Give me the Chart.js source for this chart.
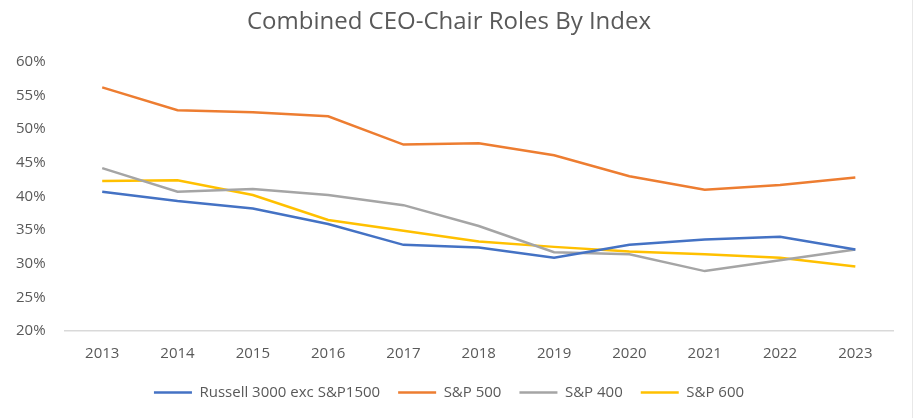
<!DOCTYPE html>
<html>
<head>
<meta charset="utf-8">
<script src="https://cdn.jsdelivr.net/npm/chart.js@4/dist/chart.umd.min.js"></script>
<style>
  html, body { margin: 0; padding: 0; background: #fff; }
  #wrap { width: 915px; height: 418px; position: relative; }
  #edge { position: absolute; left: 912px; top: 0; width: 1px; height: 418px; background: #e8e8e8; }
</style>
</head>
<body>
<div id="wrap"><canvas id="ceoChart"></canvas><div id="edge"></div></div>
<script>
const years = ['2013', '2014', '2015', '2016', '2017', '2018', '2019', '2020', '2021', '2022', '2023'];
const russell = [40.7, 39.3, 38.2, 35.9, 32.8, 32.4, 30.9, 32.8, 33.6, 34.0, 32.1];
const sp500   = [56.2, 52.8, 52.5, 51.9, 47.7, 47.9, 46.1, 43.0, 41.0, 41.7, 42.8];
const sp400   = [44.2, 40.7, 41.1, 40.2, 38.7, 35.6, 31.7, 31.4, 28.9, 30.5, 32.1];
const sp600   = [42.3, 42.4, 40.2, 36.5, 34.9, 33.3, 32.5, 31.8, 31.4, 30.9, 29.6];

const FONT = "'Open Sans', 'Liberation Sans', sans-serif";

function series(label, values, color) {
    return {
        label: label,
        data: values.map(v => v / 100),
        borderColor: color,
        backgroundColor: color,
        borderWidth: 2.5,
        pointRadius: 0,
        tension: 0,
        fill: false
    };
}

new Chart(document.getElementById('ceoChart').getContext('2d'), {
    type: 'line',
    data: {
        labels: years,
        datasets: [
            series('Russell 3000 exc S&P1500', russell, '#4472C4'),
            series('S&P 500', sp500, '#ED7D31'),
            series('S&P 400', sp400, '#A5A5A5'),
            series('S&P 600', sp600, '#FFC000')
        ]
    },
    options: {
        responsive: true,
        maintainAspectRatio: false,
        animation: false,
        layout: { padding: { left: 5, right: 22, top: 4, bottom: 8 } },
        plugins: {
            title: {
                display: true,
                text: 'Combined CEO-Chair Roles By Index',
                color: '#595959',
                font: { family: FONT, size: 24, weight: 'normal' },
                padding: { top: 4, bottom: 25 }
            },
            legend: {
                position: 'bottom',
                labels: {
                    color: '#595959',
                    font: { family: FONT, size: 15 },
                    usePointStyle: true,
                    pointStyle: 'line',
                    pointStyleWidth: 38,
                    padding: 18,
                    boxHeight: 3
                }
            },
            tooltip: { enabled: false }
        },
        scales: {
            x: {
                offset: true,
                grid: { display: false },
                border: { display: true, color: '#D9D9D9', width: 1.5 },
                ticks: { color: '#595959', font: { family: FONT, size: 15 }, padding: 6 },
                afterFit: s => { s.height -= 2; }
            },
            y: {
                min: 0.2,
                max: 0.6,
                grid: { display: false },
                border: { display: false },
                ticks: {
                    stepSize: 0.05,
                    color: '#595959',
                    font: { family: FONT, size: 15 },
                    padding: 11,
                    callback: v => Math.round(v * 100) + '%'
                }
            }
        }
    }
});
</script>
</body>
</html>
